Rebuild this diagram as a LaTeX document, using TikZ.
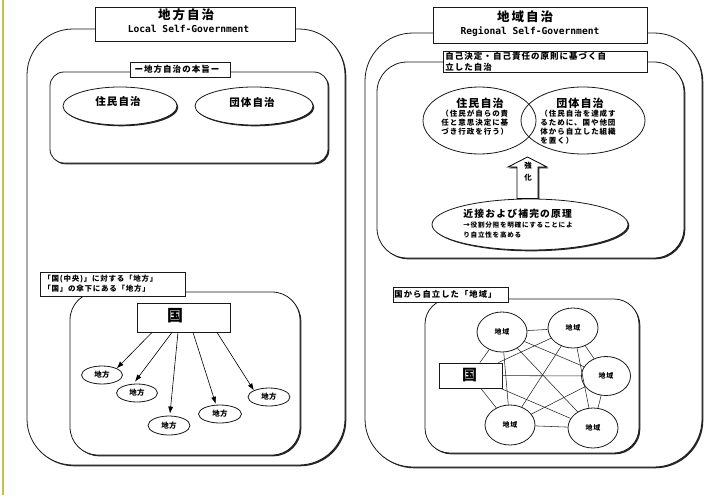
\documentclass[tikz,border=0pt]{standalone}
\usepackage{fontspec}
\newfontfamily\jp{Noto Sans CJK JP}
\newfontfamily\mono{DejaVu Sans Mono}
\usetikzlibrary{shapes.geometric,arrows.meta,shadows,calc}
\definecolor{yel}{RGB}{200,192,70}
\newcommand\jf[3]{\jp\bfseries\fontsize{#1}{#2}\selectfont\addfontfeature{LetterSpace=#3}}
\begin{document}
\begin{tikzpicture}[x=1pt,y=-1pt,line width=0.8pt,
  box/.style={draw=black!90,fill=white,inner sep=0pt},
  shad/.style={drop shadow={shadow xshift=1.3pt,shadow yshift=-1.3pt,opacity=1,fill=black!85}},
  ell/.style={ellipse,box},
  arr/.style={-{Latex[length=7pt,width=5pt]},line width=0.6pt},
  edge/.style={line width=0.55pt,draw=black!85},
  txt/.style={inner sep=0pt},
  entxt/.style={inner sep=0pt,font=\mono\bfseries\fontsize{9.6}{12}\selectfont}]
\useasboundingbox (0,0) rectangle (708,495);
\fill[white] (0,0) rectangle (708,495);
\draw[yel,line width=2.2pt] (3,0) -- (3,495);

% ================= LEFT PANEL =================
\node[box,shad,rounded corners=46pt,minimum width=318pt,minimum height=436pt] (outerL) at (186,247) {};
\node[box,minimum width=200pt,minimum height=34pt] (titleL) at (195,24) {};
\node[txt,font=\jf{12.5}{15}{16}] (titleLj) at (186,15) {地方自治};
\node[entxt] (titleLe) at (188.5,29) {Local Self-Government};

\node[box,shad,rounded corners=14pt,minimum width=278pt,minimum height=91pt] (hon) at (189,117.5) {};
\node[box,minimum width=100pt,minimum height=15pt] (honL) at (180,69.5) {};
\node[txt,font=\jf{8.5}{10}{12}] (honLt) at (177,69.5) {ー地方自治の本旨ー};

\node[ell,shad,minimum width=114pt,minimum height=38pt] (jumin) at (120,106) {};
\node[txt,font=\jf{10.5}{12}{10}] (jumint) at (118,102) {住民自治};
\node[ell,shad,minimum width=118pt,minimum height=38pt] (dantai) at (254,106) {};
\node[txt,font=\jf{10.5}{12}{10}] (dantait) at (252,102) {団体自治};

\node[box,shad,rounded corners=28pt,minimum width=230pt,minimum height=163pt] (kuniBox) at (185,373.5) {};
\node[box,minimum width=145pt,minimum height=24pt] (lab2) at (112.5,284) {};
\node[txt,anchor=west,align=left,font=\jf{7.5}{10}{10}] (lab2t) at (43,283.5) {「国(中央)」に対する「地方」\\「国」の傘下にある「地方」};

\node[box,shad,minimum width=93pt,minimum height=29pt] (kuniL) at (183.5,317.5) {};
\node[txt,font=\jf{16}{16}{0}] (kuniLt) at (175,316) {国};

\node[ell,minimum width=41pt,minimum height=18pt,font=\jf{7.5}{8}{5}] (c1) at (102,375) {地方};
\node[ell,minimum width=41pt,minimum height=18pt,font=\jf{7.5}{8}{5}] (c2) at (137,393) {地方};
\node[ell,minimum width=42pt,minimum height=19pt,font=\jf{7.5}{8}{5}] (c3) at (169,425.5) {地方};
\node[ell,minimum width=43pt,minimum height=18pt,font=\jf{7.5}{8}{5}] (c4) at (220,414) {地方};
\node[ell,minimum width=42pt,minimum height=18pt,font=\jf{7.5}{8}{5}] (c5) at (269,397) {地方};

\draw[arr] ([xshift=-31.5pt]kuniL.south) -- (c1.north east);
\draw[arr] ([xshift=-11.5pt]kuniL.south) -- ([xshift=-2pt,yshift=2pt]c2.north);
\draw[arr] ([xshift=-5.5pt]kuniL.south) -- ([xshift=1pt,yshift=2pt]c3.north);
\draw[arr] ([xshift=9.5pt]kuniL.south) -- ([yshift=1pt]c4.115);
\draw[arr] ([xshift=33.5pt]kuniL.south) -- (c5.north west);

% ================= RIGHT PANEL =================
\node[box,shad,rounded corners=48pt,minimum width=337pt,minimum height=434pt] (outerR) at (533.5,250) {};
\node[box,minimum width=214pt,minimum height=36pt] (titleR) at (540,25) {};
\node[txt,font=\jf{12.5}{15}{16}] (titleRj) at (525,17) {地域自治};
\node[entxt] (titleRe) at (530,32) {Regional Self-Government};

\node[box,shad,rounded corners=30pt,minimum width=307pt,minimum height=196pt] (prin) at (530.5,160) {};
\node[box,minimum width=204pt,minimum height=21pt] (lab3) at (545,62) {};
\node[txt,anchor=west,align=left,font=\jf{8.5}{11}{12}] (lab3t) at (445,61.5) {自己決定・自己責任の原則に基づく自\\立した自治};

\node[ellipse,draw=black!90,minimum width=113pt,minimum height=67pt] (eR1) at (479.5,120.5) {};
\node[ellipse,draw=black!90,minimum width=124pt,minimum height=67pt] (eR2) at (583,120.5) {};
\node[txt,font=\jf{11}{13}{10}] (eR1t) at (480,103) {住民自治};
\node[txt,anchor=west,align=left,font=\jf{7.5}{9}{13}] (eR1s) at (441,122.5) {（住民が自らの責\\任と意思決定に基\\づき行政を行う）};
\node[txt,font=\jf{11}{13}{10}] (eR2t) at (580,103) {団体自治};
\node[txt,anchor=west,align=left,font=\jf{7.5}{9}{13}] (eR2s) at (540,127) {（住民自治を達成す\\るために、国や他団\\体から自立した組織\\を置く）};

\draw[fill=white,line width=0.8pt,shad] (517,198.5) -- (517,167) -- (508,167) -- (527.5,157) -- (547,167) -- (538,167) -- (538,198.5) -- cycle;
\node[txt,font=\jf{7.5}{9}{0}] (kyo) at (528,166) {強};
\node[txt,font=\jf{7.5}{9}{0}] (ka) at (528,177.5) {化};

\node[ell,shad,minimum width=196pt,minimum height=51pt] (kinsetsu) at (530,224.5) {};
\node[txt,anchor=west,font=\jf{9.8}{12}{12}] (k1) at (463,214) {近接および補完の原理};
\node[txt,anchor=west,font=\jf{6.6}{8}{11}] (k2) at (463,225) {→役割分担を明確にすることによ};
\node[txt,anchor=west,font=\jf{6.6}{8}{11}] (k3) at (463,235) {り自立性を高める};

\node[box,shad,rounded corners=25pt,minimum width=214pt,minimum height=154pt] (netBox) at (532,376) {};
\node[box,shad,minimum width=115pt,minimum height=15pt] (lab4) at (450.5,294.5) {};
\node[txt,anchor=west,font=\jf{8.3}{10}{13}] (lab4t) at (394,294.5) {国から自立した「地域」};

\node[box,shad,minimum width=63pt,minimum height=25pt] (kuniR) at (470.5,375.5) {};
\node[txt,font=\jf{15}{15}{0}] (kuniRt) at (469.5,375) {国};

\node[ell,minimum width=50pt,minimum height=40pt,font=\jf{7}{8}{8}] (A) at (502,332) {地域};
\node[ell,minimum width=50pt,minimum height=40pt,font=\jf{7}{8}{8}] (B) at (573,328) {地域};
\node[ell,minimum width=49pt,minimum height=39pt,font=\jf{7}{8}{8}] (C) at (606,376) {地域};
\node[ell,minimum width=50pt,minimum height=40pt,font=\jf{7}{8}{8}] (D) at (510,425) {地域};
\node[ell,minimum width=50pt,minimum height=40pt,font=\jf{7}{8}{8}] (E) at (593,428) {地域};

\foreach \a/\b in {kuniR/A,kuniR/B,kuniR/C,kuniR/D,kuniR/E,A/B,A/C,A/D,A/E,B/C,B/D,B/E,C/D,C/E,D/E}
  \draw[edge] (\a) -- (\b);
\end{tikzpicture}
\end{document}
